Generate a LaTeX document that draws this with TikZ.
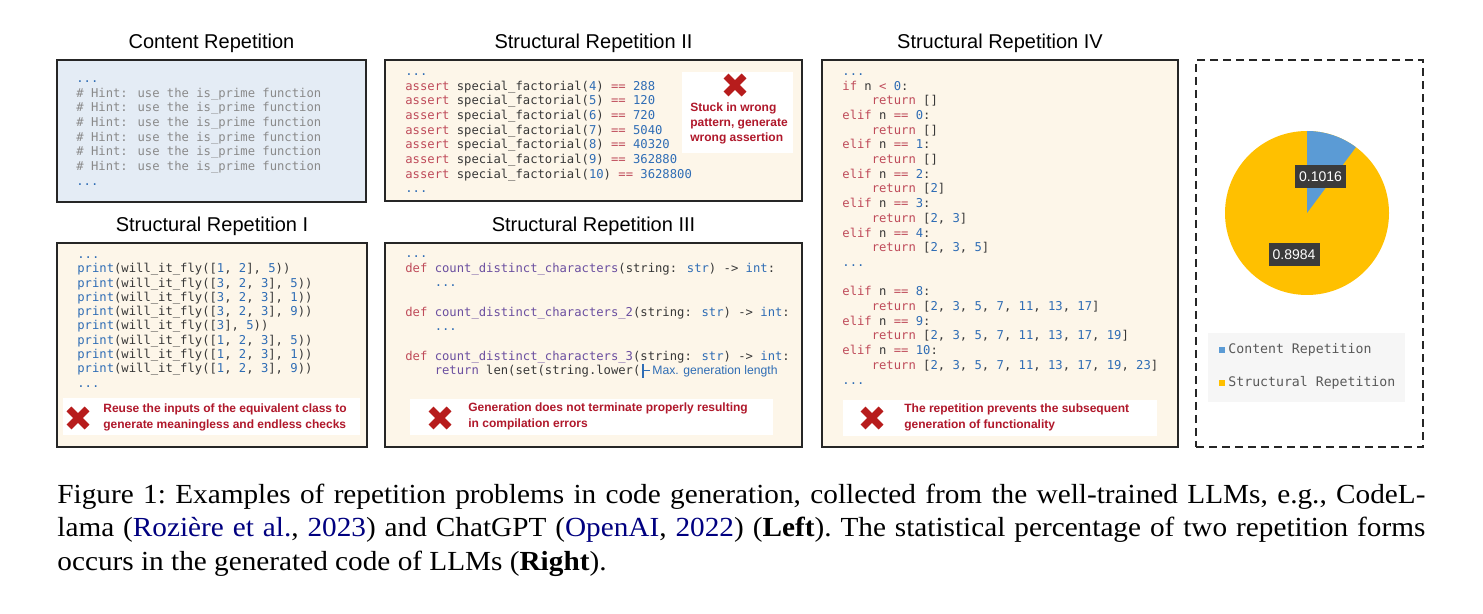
\documentclass[tikz,border=0pt]{standalone}
\usepackage{fontspec}
\setmainfont{Liberation Sans}
\newfontfamily\codefont{DejaVu Sans Mono}
\newfontfamily\capfont[FakeStretch=1.06]{Liberation Serif}
\usepackage{xcolor}
\usetikzlibrary{positioning}

\definecolor{kwred}{HTML}{BF4B5A}
\definecolor{numblue}{HTML}{2F6DB5}
\definecolor{fnpurple}{HTML}{6B4FA0}
\definecolor{codedark}{HTML}{383838}
\definecolor{cmtgray}{HTML}{8A8A8A}
\definecolor{notered}{HTML}{B0182B}
\definecolor{crossred}{HTML}{B71C1C}
\definecolor{creamfill}{HTML}{FDF6E9}
\definecolor{bluefill}{HTML}{E4ECF5}
\definecolor{pieblue}{HTML}{5B9BD5}
\definecolor{pieorange}{HTML}{FFC000}
\definecolor{labelgray}{HTML}{3B3B3B}
\definecolor{legendbg}{HTML}{F6F6F6}
\definecolor{citeblue}{rgb}{0,0,0.5}

\newcommand{\kw}[1]{\textcolor{kwred}{#1}}
\newcommand{\nb}[1]{\textcolor{numblue}{#1}}
\newcommand{\fn}[1]{\textcolor{fnpurple}{#1}}
\newcommand{\cmt}[1]{\textcolor{cmtgray}{#1}}
\newcommand{\etc}{\textcolor{numblue}{...}}
\newcommand{\ind}{\hphantom{0000}}

\tikzset{
  panel/.style={draw=black!85, line width=0.75pt, fill=creamfill, inner sep=0pt},
  title/.style={font=\fontsize{10}{12}\selectfont, inner sep=0pt},
  code/.style={font=\codefont\fontsize{6.1}{7.35}\selectfont, text=codedark, align=left, inner sep=0pt, anchor=north west},
  note/.style={fill=white, inner sep=0pt},
  notetext/.style={font=\fontsize{6}{7.65}\selectfont\bfseries, text=notered, align=left, inner sep=0pt, anchor=west},
  xmark/.pic={\draw[crossred, line width=3.5pt] (-4.5pt,-4.5pt) -- (4.5pt,4.5pt) (-4.5pt,4.5pt) -- (4.5pt,-4.5pt);},
  pielabel/.style={fill=labelgray, text=white, font=\fontsize{7}{8}\selectfont, minimum width=25.5pt, minimum height=11.5pt, inner sep=0pt},
  legendtext/.style={font=\codefont\fontsize{6.6}{8}\selectfont, text=black!65, anchor=west, inner sep=0pt}
}

\begin{document}
\begin{tikzpicture}[x=0.5pt, y=-0.5pt]
    \fill[white] (0,0) rectangle (1483,614);

    % panels
    \node[panel, fill=bluefill, minimum width=154.5pt, minimum height=71pt] (cont) at (211.5,131) {};
    \node[panel, minimum width=208.5pt, minimum height=70.5pt] (rep2) at (593.5,130.5) {};
    \node[panel, minimum width=155pt, minimum height=102pt] (rep1) at (212,345) {};
    \node[panel, minimum width=208.5pt, minimum height=102pt] (rep3) at (593.5,345) {};
    \node[panel, minimum width=178pt, minimum height=193.5pt] (rep4) at (1000,253.5) {};
    \node[draw=black!85, line width=0.7pt, dash pattern=on 4pt off 2.5pt, minimum width=113.5pt, minimum height=193.5pt] (stat) at (1309.5,253.5) {};

    % titles
    \node[title, above=3pt of cont] {Content Repetition};
    \node[title, above=3pt of rep2] {Structural Repetition II};
    \node[title, above=3pt of rep1] {Structural Repetition I};
    \node[title, above=3pt of rep3] {Structural Repetition III};
    \node[title, above=3pt of rep4] {Structural Repetition IV};

    % code
    \node[code] (c0) at (76,71.7) {\etc\strut\\
\cmt{\# Hint: use the is\_prime function}\\
\cmt{\# Hint: use the is\_prime function}\\
\cmt{\# Hint: use the is\_prime function}\\
\cmt{\# Hint: use the is\_prime function}\\
\cmt{\# Hint: use the is\_prime function}\\
\cmt{\# Hint: use the is\_prime function}\\
\etc};

    \node[code] (c2) at (405,64.7) {\etc\strut\\
\kw{assert} special\_factorial(\nb{4}) \kw{==} \nb{288}\\
\kw{assert} special\_factorial(\nb{5}) \kw{==} \nb{120}\\
\kw{assert} special\_factorial(\nb{6}) \kw{==} \nb{720}\\
\kw{assert} special\_factorial(\nb{7}) \kw{==} \nb{5040}\\
\kw{assert} special\_factorial(\nb{8}) \kw{==} \nb{40320}\\
\kw{assert} special\_factorial(\nb{9}) \kw{==} \nb{362880}\\
\kw{assert} special\_factorial(\nb{10}) \kw{==} \nb{3628800}\\
\etc};

    \node[code, font=\codefont\fontsize{6.1}{7.15}\selectfont] (c1) at (77,248) {\etc\strut\\
\nb{print}(will\_it\_fly([\nb{1}, \nb{2}], \nb{5}))\\
\nb{print}(will\_it\_fly([\nb{3}, \nb{2}, \nb{3}], \nb{5}))\\
\nb{print}(will\_it\_fly([\nb{3}, \nb{2}, \nb{3}], \nb{1}))\\
\nb{print}(will\_it\_fly([\nb{3}, \nb{2}, \nb{3}], \nb{9}))\\
\nb{print}(will\_it\_fly([\nb{3}], \nb{5}))\\
\nb{print}(will\_it\_fly([\nb{1}, \nb{2}, \nb{3}], \nb{5}))\\
\nb{print}(will\_it\_fly([\nb{1}, \nb{2}, \nb{3}], \nb{1}))\\
\nb{print}(will\_it\_fly([\nb{1}, \nb{2}, \nb{3}], \nb{9}))\\
\etc};

    \node[code] (c3) at (405,246.7) {\etc\strut\\
\kw{def} \fn{count\_distinct\_characters}(string: \nb{str}) -> \nb{int}:\\
\ind\etc\\
\strut\\
\kw{def} \fn{count\_distinct\_characters\_2}(string: \nb{str}) -> \nb{int}:\\
\ind\etc\\
\strut\\
\kw{def} \fn{count\_distinct\_characters\_3}(string: \nb{str}) -> \nb{int}:\\
\ind\fn{return} len(set(string.lower(};

    \node[code] (c4) at (842,64.7) {\etc\strut\\
\kw{if} n \kw{<} \nb{0}:\\
\ind\kw{return} []\\
\kw{elif} n \kw{==} \nb{0}:\\
\ind\kw{return} []\\
\kw{elif} n \kw{==} \nb{1}:\\
\ind\kw{return} []\\
\kw{elif} n \kw{==} \nb{2}:\\
\ind\kw{return} [\nb{2}]\\
\kw{elif} n \kw{==} \nb{3}:\\
\ind\kw{return} [\nb{2}, \nb{3}]\\
\kw{elif} n \kw{==} \nb{4}:\\
\ind\kw{return} [\nb{2}, \nb{3}, \nb{5}]\\
\etc\\
\strut\\
\kw{elif} n \kw{==} \nb{8}:\\
\ind\kw{return} [\nb{2}, \nb{3}, \nb{5}, \nb{7}, \nb{11}, \nb{13}, \nb{17}]\\
\kw{elif} n \kw{==} \nb{9}:\\
\ind\kw{return} [\nb{2}, \nb{3}, \nb{5}, \nb{7}, \nb{11}, \nb{13}, \nb{17}, \nb{19}]\\
\kw{elif} n \kw{==} \nb{10}:\\
\ind\kw{return} [\nb{2}, \nb{3}, \nb{5}, \nb{7}, \nb{11}, \nb{13}, \nb{17}, \nb{19}, \nb{23}]\\
\etc};

    % max length cursor
    \draw[numblue, line width=0.6pt] (643,364) -- (643,378);
    \draw[numblue, line width=0.5pt] (643,371) -- (650,371);
    \node[anchor=west, inner sep=0pt, text=numblue, font=\fontsize{6.1}{7}\selectfont] (maxlen) at (652,371) {Max. generation length};

    % notes
    \node[note, minimum width=55.5pt, minimum height=40.5pt] (n2) at (737.5,112.5) {};
    \pic at (735,85) {xmark};
    \node[notetext] (t2) at (690,123.5) {Stuck in wrong\\pattern, generate\\wrong assertion};

    \node[note, minimum width=148.5pt, minimum height=18.5pt] (n1) at (211.5,416.5) {};
    \pic at (78,418) {xmark};
    \node[notetext] (t1) at (103,417.5) {Reuse the inputs of the equivalent class to\\generate meaningless and endless checks};

    \node[note, minimum width=181.5pt, minimum height=18pt] (n3) at (591.5,417) {};
    \pic at (440,418) {xmark};
    \node[notetext] (t3) at (468,416.5) {Generation does not terminate properly resulting\\in compilation errors};

    \node[note, minimum width=157pt, minimum height=18pt] (n4) at (1000,418) {};
    \pic at (872,418) {xmark};
    \node[notetext] (t4) at (904,417.5) {The repetition prevents the subsequent\\generation of functionality};

    % pie chart
    \coordinate (pc) at (1307,213);
    \fill[pieorange] (pc) circle[radius=82];
    \fill[pieblue] (pc) -- ++(-90:82) arc[start angle=-90, end angle=-53.4, radius=82] -- cycle;
    \node[pielabel] (v1) at (1320.5,176.5) {0.1016};
    \node[pielabel] (v2) at (1294,254.5) {0.8984};

    % legend
    \node[fill=legendbg, minimum width=98.5pt, minimum height=34.5pt, inner sep=0pt] (lg) at (1306.5,367.5) {};
    \node[legendtext] (l1) at (1228,350) {Content Repetition};
    \node[legendtext] (l2) at (1228,383) {Structural Repetition};
    \node[fill=pieblue, minimum size=3pt, inner sep=0pt, left=1.5pt of l1] {};
    \node[fill=pieorange, minimum size=3pt, inner sep=0pt, left=1.5pt of l2] {};

    % caption
    \node[anchor=north west, text width=684pt, align=justify, inner sep=0pt, font=\capfont\fontsize{13.8}{16.75}\selectfont] (cap) at (57,479.5) {\frenchspacing\strut Figure 1: Examples of repetition problems in code generation, collected from the well-trained LLMs, e.g., CodeL-\linebreak lama (\textcolor{citeblue}{Rozière et al.}, \textcolor{citeblue}{2023}) and ChatGPT (\textcolor{citeblue}{OpenAI}, \textcolor{citeblue}{2022}) (\textbf{Left}). The statistical percentage of two repetition forms\linebreak occurs in the generated code of LLMs (\textbf{Right}).};
\end{tikzpicture}
\end{document}
